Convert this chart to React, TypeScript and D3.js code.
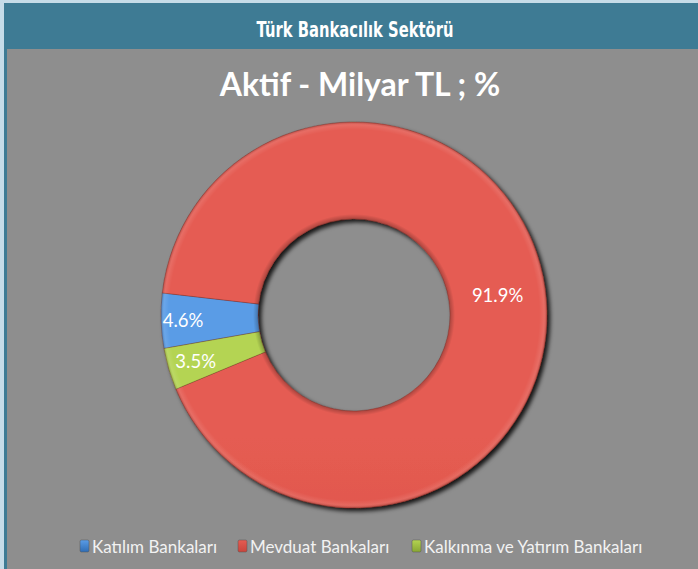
import React from "react";
import * as d3 from "d3";

// Sector breakdown of assets (%)
const categories = ["Katılım Bankaları", "Mevduat Bankaları", "Kalkınma ve Yatırım Bankaları"];
const values = [4.6, 91.9, 3.5];
const sliceColors = ["#3f86d4", "#dc5248", "#a3c444"];
const sliceLight = ["#5a9ce6", "#e55c52", "#b4d452"];
const sliceDark = ["#2f6db5", "#c9453c", "#88a634"];
const headerTitle = "Türk Bankacılık Sektörü";
const chartTitle = "Aktif - Milyar TL ; %";

const W = 698;
const H = 569;

export default function App() {
  const cx = 354;
  const cy = 315;
  const outerR = 193;
  const innerR = 96;
  const startDeg = 260;

  const pie = d3
    .pie<number>()
    .sort(null)
    .value((d) => d)
    .startAngle((startDeg * Math.PI) / 180)
    .endAngle(((startDeg + 360) * Math.PI) / 180);
  const arcs = pie(values);
  const arc = d3.arc<d3.PieArcDatum<number>>().innerRadius(innerR).outerRadius(outerR);
  // small slices get their labels pushed outward along the bisector
  const labelRadius = [171, 145, 165];
  const fmt = d3.format(".1f");

  const legendX = [80, 238, 412];
  const font = "Lato, 'Open Sans', sans-serif";

  return (
    <svg width={W} height={H} style={{ position: "absolute", left: 0, top: 0 }}>
      <defs>
        <filter id="ringShadow" x="-20%" y="-20%" width="140%" height="140%">
          <feDropShadow dx="3" dy="3" stdDeviation="2.2" floodColor="#000" floodOpacity="0.85" />
        </filter>
        {sliceColors.map((c, i) => (
          <linearGradient key={i} id={`lg${i}`} x1="0" y1={cy - outerR} x2="0" y2={cy + outerR} gradientUnits="userSpaceOnUse">
            <stop offset="0" stopColor={sliceLight[i]} />
            <stop offset="0.5" stopColor={c} />
            <stop offset="1" stopColor={sliceDark[i]} />
          </linearGradient>
        ))}
        <radialGradient id="bevel" cx={cx} cy={cy} r={outerR} gradientUnits="userSpaceOnUse">
          <stop offset={innerR / outerR} stopColor="#000" stopOpacity="0.25" />
          <stop offset={(innerR + 5) / outerR} stopColor="#000" stopOpacity="0" />
          <stop offset="0.96" stopColor="#fff" stopOpacity="0" />
          <stop offset="0.985" stopColor="#fff" stopOpacity="0.1" />
          <stop offset="1" stopColor="#000" stopOpacity="0.2" />
        </radialGradient>
        {sliceColors.map((c, i) => (
          <linearGradient key={`k${i}`} id={`key${i}`} x1="0" y1="0" x2="0" y2="1">
            <stop offset="0" stopColor={sliceLight[i]} />
            <stop offset="1" stopColor={sliceDark[i]} />
          </linearGradient>
        ))}
      </defs>

      {/* frame */}
      <rect x={0} y={0} width={W} height={H} fill="#c6dce8" />
      <rect x={4} y={3} width={W - 4} height={H - 3} fill="#3e7b94" />
      <rect x={7} y={49} width={W - 7} height={H - 49} fill="#8e8e8e" />

      <text
        x={355}
        y={37}
        textAnchor="middle"
        fill="#fff"
        fontFamily="'Liberation Sans Narrow', 'DejaVu Sans Condensed', sans-serif"
        fontWeight="bold"
        fontSize={22}
        textLength={197}
        lengthAdjust="spacingAndGlyphs"
      >
        {headerTitle}
      </text>

      <text x={360} y={96} textAnchor="middle" fill="#fff" fontFamily={font} fontWeight="bold" fontSize={32}>
        {chartTitle}
      </text>

      <g filter="url(#ringShadow)">
        {arcs.map((a, i) => (
          <path key={i} d={arc(a) || ""} transform={`translate(${cx},${cy})`} fill={`url(#lg${i})`} stroke="#6a2520" strokeOpacity={0.4} strokeWidth={0.8} />
        ))}
      </g>
      <circle cx={cx} cy={cy} r={(innerR + outerR) / 2} fill="none" stroke="url(#bevel)" strokeWidth={outerR - innerR} />

      {arcs.map((a, i) => {
        const [lx, ly] = d3.arc<d3.PieArcDatum<number>>().innerRadius(labelRadius[i]).outerRadius(labelRadius[i]).centroid(a);
        return (
          <text key={i} x={cx + lx} y={cy + ly} textAnchor="middle" dominantBaseline="central" fill="#fff" fontFamily={font} fontSize={18.5}>
            {fmt(values[i])}%
          </text>
        );
      })}

      {categories.map((c, i) => (
        <g key={c}>
          <rect x={legendX[i]} y={540} width={9} height={12} rx={1.5} fill={`url(#key${i})`} stroke="#555" strokeWidth={0.5} />
          <text x={legendX[i] + 12} y={553} fill="#f2f2f2" fontFamily={font} fontSize={17}>
            {c}
          </text>
        </g>
      ))}
    </svg>
  );
}
